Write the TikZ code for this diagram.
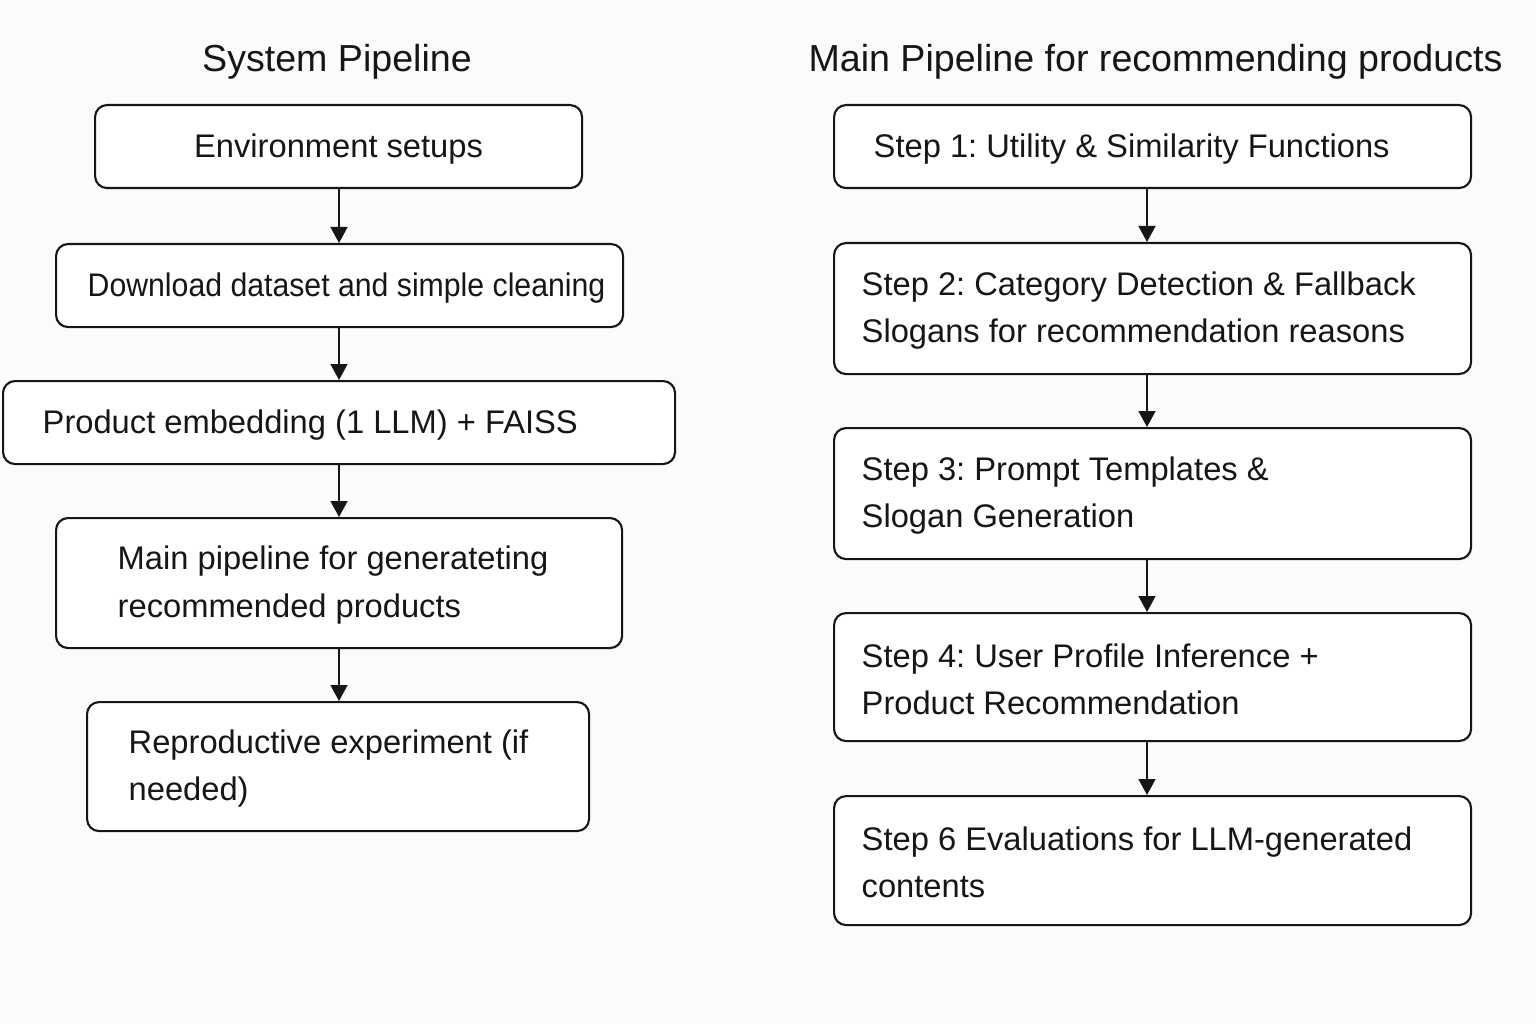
\documentclass[tikz,border=0pt]{standalone}
\usepackage{fontspec}
\setmainfont{Liberation Sans}
\usetikzlibrary{arrows.meta}

\definecolor{bgcol}{HTML}{FAFBFC}
\definecolor{inkcol}{HTML}{161616}

\tikzset{
	stepbox/.style={draw=inkcol, line width=0.6pt, rounded corners=0.12cm, fill=white, anchor=north west, inner sep=0pt},
	lbl/.style={anchor=west, align=left, inner sep=0pt, yshift=-0.02cm, text=inkcol, font=\fontsize{9.3}{13.5}\selectfont},
	ttl/.style={inner sep=0pt, text=inkcol, font=\fontsize{10.7}{12}\selectfont},
	flow/.style={draw=inkcol, line width=0.45pt, -{Triangle[length=0.16cm, width=0.17cm]}},
}

\frenchspacing
\begin{document}
\begin{tikzpicture}
	\fill[bgcol] (0,0) rectangle (15.36,10.24);
	\useasboundingbox (0,0) rectangle (15.36,10.24);

	% titles
	\node[ttl] (ttlsys) at (3.37, 9.62) {System Pipeline};
	\node[ttl] (ttlmain) at (11.555, 9.62) {Main Pipeline for recommending products};

	% arrow columns
	\coordinate (lax) at (3.39, 0);
	\coordinate (rax) at (11.47, 0);

	% system pipeline
	\node[stepbox, minimum width=4.87cm, minimum height=0.83cm] (env) at (0.94, 9.20) {};
	\node[lbl, anchor=center] at (env.center) {Environment setups};

	\node[stepbox, minimum width=5.67cm, minimum height=0.83cm] (down) at (0.55, 7.81) {};
	\node[lbl] at ([xshift=0.32cm]down.west) {\addfontfeatures{FakeStretch=0.925}Download dataset and simple cleaning};

	\node[stepbox, minimum width=6.72cm, minimum height=0.83cm] (emb) at (0.02, 6.44) {};
	\node[lbl] at ([xshift=0.40cm]emb.west) {Product embedding (1 LLM) + FAISS};

	\node[stepbox, minimum width=5.66cm, minimum height=1.30cm] (mainp) at (0.55, 5.07) {};
	\node[lbl] at ([xshift=0.62cm]mainp.west) {Main pipeline for generateting\\recommended products};

	\node[stepbox, minimum width=5.02cm, minimum height=1.29cm] (repro) at (0.86, 3.23) {};
	\node[lbl] at ([xshift=0.42cm]repro.west) {Reproductive experiment (if\\needed)};

	\draw[flow] (env.south -| lax) -- (down.north -| lax);
	\draw[flow] (down.south -| lax) -- (emb.north -| lax);
	\draw[flow] (emb.south -| lax) -- (mainp.north -| lax);
	\draw[flow] (mainp.south -| lax) -- (repro.north -| lax);

	% main pipeline
	\node[stepbox, minimum width=6.37cm, minimum height=0.83cm] (sone) at (8.33, 9.20) {};
	\node[lbl] at ([xshift=0.40cm]sone.west) {Step 1: Utility \& Similarity Functions};

	\node[stepbox, minimum width=6.37cm, minimum height=1.31cm] (stwo) at (8.33, 7.82) {};
	\node[lbl] at ([xshift=0.28cm]stwo.west) {Step 2: Category Detection \& Fallback\\Slogans for recommendation reasons};

	\node[stepbox, minimum width=6.37cm, minimum height=1.31cm] (sthree) at (8.33, 5.97) {};
	\node[lbl] at ([xshift=0.28cm]sthree.west) {Step 3: Prompt Templates \&\\Slogan Generation};

	\node[stepbox, minimum width=6.37cm, minimum height=1.28cm] (sfour) at (8.33, 4.12) {};
	\node[lbl] at ([xshift=0.28cm]sfour.west) {Step 4: User Profile Inference +\\Product Recommendation};

	\node[stepbox, minimum width=6.37cm, minimum height=1.29cm] (ssix) at (8.33, 2.29) {};
	\node[lbl] at ([xshift=0.28cm]ssix.west) {Step 6 Evaluations for LLM-generated\\contents};

	\draw[flow] (sone.south -| rax) -- (stwo.north -| rax);
	\draw[flow] (stwo.south -| rax) -- (sthree.north -| rax);
	\draw[flow] (sthree.south -| rax) -- (sfour.north -| rax);
	\draw[flow] (sfour.south -| rax) -- (ssix.north -| rax);
\end{tikzpicture}
\end{document}
